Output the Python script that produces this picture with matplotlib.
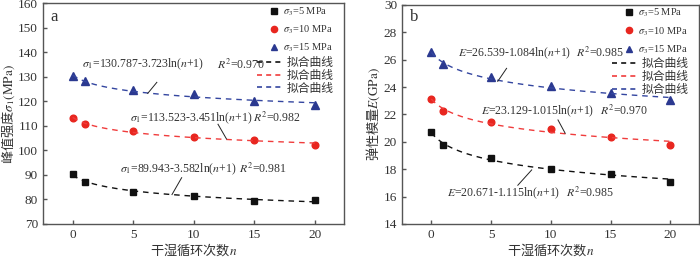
import numpy as np
import matplotlib
matplotlib.use("Agg")
import matplotlib.pyplot as plt
from matplotlib.lines import Line2D

plt.rcParams['font.family'] = ['Liberation Serif', 'Noto Sans CJK SC']
plt.rcParams['mathtext.fontset'] = 'stix'

# cycles
n_cycles = [0, 1, 5, 10, 15, 20]
labels_s3 = [r'$\sigma_3$=5 MPa', r'$\sigma_3$=10 MPa', r'$\sigma_3$=15 MPa']

# panel a: peak strength (MPa)
strength_5 = [90.5, 87.0, 83.0, 81.5, 79.3, 79.6]
strength_10 = [113.2, 111.0, 107.8, 105.5, 104.2, 102.1]
strength_15 = [130.5, 128.3, 124.7, 123.0, 120.2, 118.7]
# fit coefficients a - b*ln(n+1)
strength_fit = [(89.943, 3.582), (113.523, 3.451), (130.787, 3.723)]
strength_r2 = ['0.981', '0.982', '0.970']

# panel b: elastic modulus (GPa)
modulus_5 = [20.7, 19.75, 18.85, 18.05, 17.65, 17.05]
modulus_10 = [23.15, 22.25, 21.45, 20.95, 20.35, 19.75]
modulus_15 = [26.55, 25.7, 24.75, 24.1, 23.55, 23.05]
modulus_fit = [(20.671, 1.115), (23.129, 1.015), (26.539, 1.084)]
modulus_r2 = ['0.985', '0.970', '0.985']

colors = ['#111111', '#e8261f', '#2b3990']
line_colors = ['#111111', '#f03c3c', '#3446a0']
markers = ['s', 'o', '^']
grey = '#333333'
cjk = 'Noto Sans CJK SC'


def style_axes(ax):
    for sp in ax.spines.values():
        sp.set_color('#555555')
        sp.set_linewidth(1.0)
    ax.tick_params(direction='in', length=3, width=1, color='#555555',
                   labelcolor=grey, labelsize=9.5, top=False, right=False)


def draw_panel(ax, series, fits, fit_name, r2s, texts, r2_pos, leaders):
    nn = np.linspace(0, 20, 200)
    for i, ys in enumerate(series):
        ax.plot(n_cycles, ys, linestyle='none', marker=markers[i], color=colors[i],
                markersize=4.8 if markers[i] != '^' else 5.5)
    for i, (a, b) in enumerate(fits):
        ax.plot(nn, a - b * np.log(nn + 1), linestyle=(0, (4, 3.5)), color=line_colors[i], lw=1.0)
    for i, (a, b) in enumerate(fits):
        tx, ty = texts[i]
        ax.text(tx, ty, fit_name + f'={a:.3f}-{b:.3f}ln($n$+1)', fontsize=8.5, color=grey,
                ha='left', va='center')
        ax.text(r2_pos[i], ty, f'$R^2$={r2s[i]}', fontsize=8.5, color=grey, ha='left', va='center')
        (x0, y0), (x1, y1) = leaders[i]
        ax.plot([x0, x1], [y0, y1], color='#222222', lw=0.7)

    h1 = [Line2D([], [], linestyle='none', marker=markers[i], color=colors[i], markersize=4.5)
          for i in range(3)]
    leg1 = ax.legend(h1, labels_s3, loc='upper right', bbox_to_anchor=(0.978, 1.015),
                     frameon=False, fontsize=7.5, handlelength=0.8, handletextpad=0.4,
                     labelspacing=0.55, borderpad=0.0, labelcolor=grey)
    ax.add_artist(leg1)
    h2 = [Line2D([], [], linestyle=(0, (3, 2.5)), color=line_colors[i], lw=1.2) for i in range(3)]
    ax.legend(h2, ['拟合曲线'] * 3, loc='upper right', bbox_to_anchor=(0.985, 0.785),
              frameon=False, fontsize=8.5, handlelength=2.2, handletextpad=0.3,
              labelspacing=0.08, borderpad=0.0, labelcolor=grey)


fig = plt.figure(figsize=(7, 2.58), dpi=100)
ax1 = fig.add_axes([0.0614, 0.1318, 0.43, 0.855])
ax2 = fig.add_axes([0.5743, 0.1318, 0.4243, 0.849])

draw_panel(ax1, [strength_5, strength_10, strength_15], strength_fit, r'$\sigma_1$', strength_r2,
           texts=[(3.9, 92.5), (4.7, 113.2), (0.8, 135.1)],
           r2_pos=[13.7, 14.9, 11.9],
           leaders=[((9.0, 88.9), (8.2, 82.0)), ((12.0, 110.7), (12.7, 104.7)),
                    ((6.95, 127.8), (6.2, 123.3))])
draw_panel(ax2, [modulus_5, modulus_10, modulus_15], modulus_fit, r'$E$', modulus_r2,
           texts=[(1.3, 16.25), (4.2, 22.23), (2.2, 26.47)],
           r2_pos=[11.3, 14.1, 12.1],
           leaders=[((7.24, 16.83), (8.4, 17.95)), ((10.6, 21.6), (11.2, 20.63)),
                    ((6.3, 25.37), (5.56, 24.42))])

for ax in (ax1, ax2):
    style_axes(ax)
    ax.set_xlim(-2.45, 22.4)
    ax.set_xticks([0, 5, 10, 15, 20])
    ax.set_xlabel('干湿循环次数$n$', fontsize=9.5, color=grey, labelpad=0, fontfamily=cjk)

ax1.set_ylim(70, 160)
ax1.set_yticks(range(70, 161, 10))
ax1.set_ylabel(r'峰值强度$\sigma_1\mathrm{(MPa)}$', fontsize=9.5, color=grey, labelpad=1,
               fontfamily=cjk)
ax2.set_ylim(14, 30)
ax2.set_yticks(range(14, 31, 2))
ax2.set_ylabel(r'弹性模量$E\mathrm{(GPa)}$', fontsize=9.5, color=grey, labelpad=1,
               fontfamily=cjk)

ax1.text(0.023, 0.94, 'a', transform=ax1.transAxes, fontsize=12, color=grey, va='center')
ax2.text(0.027, 0.945, 'b', transform=ax2.transAxes, fontsize=12, color=grey, va='center')

fig.savefig('out.png', dpi=100)
